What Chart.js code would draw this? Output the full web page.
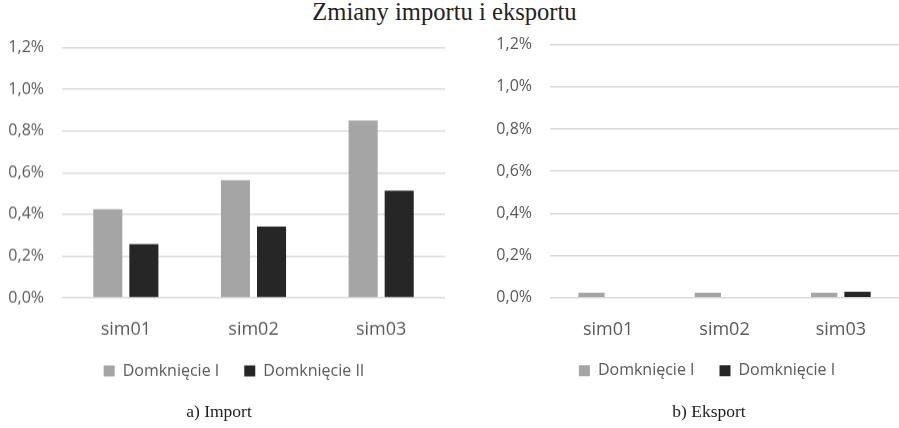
<!DOCTYPE html>
<html><head><meta charset="utf-8">
<script src="https://cdn.jsdelivr.net/npm/chart.js@4"></script>
<style>
html,body{margin:0;padding:0;background:#fff}
body{width:899px;height:428px;position:relative;overflow:hidden}
.txt{position:absolute;font-family:"Liberation Serif",serif;color:#222;white-space:nowrap;text-align:center}
#title{left:0;width:889px;top:0px;font-size:24.6px;line-height:24.6px}
#capA{left:119px;width:200px;top:403px;font-size:17.5px;line-height:17.5px}
#capB{left:609px;width:200px;top:403px;font-size:17.5px;line-height:17.5px}
#wrapA{position:absolute;left:0;top:20.4px;width:450px;height:391.6px}
#wrapB{position:absolute;left:480px;top:16.7px;width:419px;height:395.3px}
canvas{display:block}
</style></head>
<body>
<div id="title" class="txt">Zmiany importu i eksportu</div>
<div id="wrapA"><canvas id="chartA"></canvas></div>
<div id="wrapB"><canvas id="chartB"></canvas></div>
<div id="capA" class="txt">a) Import</div>
<div id="capB" class="txt">b) Eksport</div>
<script>
const categories = ['sim01', 'sim02', 'sim03'];
const importLabels = ['Domknięcie I', 'Domknięcie II'];
const exportLabels = ['Domknięcie I', 'Domknięcie I'];
const importClosure1 = [0.425, 0.564, 0.851];
const importClosure2 = [0.257, 0.342, 0.514];
const exportClosure1 = [0.024, 0.024, 0.024];
const exportClosure2 = [0.0, 0.0, 0.028];
const yTicks = [0, 0.2, 0.4, 0.6, 0.8, 1.0, 1.2];

const GRAY = '#A5A5A5', DARK = '#262626', GRID = '#D9D9D9', TXT = '#595959';
const FONT = '"Open Sans", sans-serif';

// shifts the legend block to where the reference places it
const legendShift = {
  id: 'legendShift',
  afterLayout(chart, args, o) {
    const l = chart.legend;
    if (!l) return;
    l.left += o.dx; l.right += o.dx;
    l.top += o.dy; l.bottom += o.dy;
  }
};

function makeChart(id, labels, d1, d2, opts) {
  return new Chart(document.getElementById(id), {
    type: 'bar',
    plugins: [legendShift],
    data: {
      labels: categories,
      datasets: [
        {label: labels[0], data: d1, backgroundColor: GRAY, borderWidth: 0,
         categoryPercentage: opts.cat, barPercentage: opts.bar},
        {label: labels[1], data: d2, backgroundColor: DARK, borderWidth: 0,
         categoryPercentage: opts.cat, barPercentage: opts.bar}
      ]
    },
    options: {
      responsive: true, maintainAspectRatio: false, animation: false,
      devicePixelRatio: 1,
      layout: {padding: {left: 0, right: opts.padRight, top: 0, bottom: 0}},
      plugins: {
        title: {display: false},
        tooltip: {enabled: false},
        legendShift: {dx: opts.dx, dy: opts.dy},
        legend: {
          position: 'bottom',
          labels: {boxWidth: 11, boxHeight: 11, padding: 25, color: TXT,
                   font: {family: FONT, size: 16}}
        }
      },
      scales: {
        x: {
          grid: {display: false, drawTicks: false}, border: {display: false},
          ticks: {color: TXT, font: {family: FONT, size: 18}, padding: 21}
        },
        y: {
          min: 0, max: 1.2,
          afterFit: s => { s.width = opts.yWidth; },
          afterBuildTicks: s => { s.ticks = yTicks.map(v => ({value: v})); },
          grid: {color: GRID, lineWidth: 1.5, drawTicks: false},
          border: {display: false},
          ticks: {color: TXT, font: {family: FONT, size: 16}, padding: 18,
                  callback: v => v.toFixed(1).replace('.', ',') + '%'}
        }
      }
    }
  });
}

makeChart('chartA', importLabels, importClosure1, importClosure2,
  {cat: 0.565, bar: 0.806, padRight: 5, yWidth: 62, dx: 11.5, dy: -23.6});
makeChart('chartB', exportLabels, exportClosure1, exportClosure2,
  {cat: 0.573, bar: 0.79, padRight: 0, yWidth: 70, dx: 17.5, dy: -23.6});
</script>
</body></html>
